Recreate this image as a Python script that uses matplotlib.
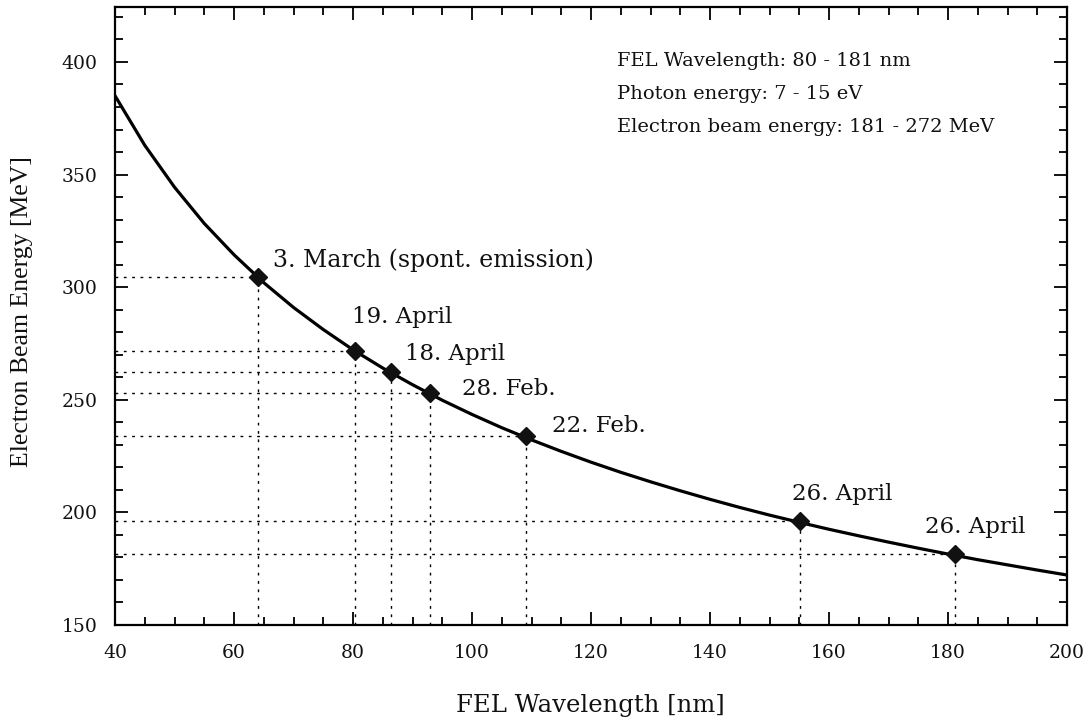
import matplotlib
matplotlib.use("Agg")
import matplotlib.pyplot as plt
from matplotlib.ticker import MultipleLocator

plt.rcParams['font.family'] = ['DejaVu Serif']

# Curve (FEL wavelength [nm] -> electron beam energy [MeV])
curve_wl = [40, 45, 50, 55, 60, 65, 70, 75, 80, 85, 90, 95, 100, 105, 110, 115, 120,
            125, 130, 135, 140, 145, 150, 155, 160, 165, 170, 175, 180, 185, 190, 195, 200]
curve_e = [385.0, 363.0, 344.4, 328.3, 314.4, 302.0, 291.0, 281.2, 272.2, 264.1, 256.7,
           249.8, 243.5, 237.6, 232.2, 227.1, 222.3, 217.8, 213.6, 209.6, 205.8, 202.2,
           198.8, 195.6, 192.5, 189.6, 186.8, 184.1, 181.5, 179.0, 176.7, 174.4, 172.2]

# Measured points
point_wl = [64.0, 80.4, 86.4, 92.9, 109.1, 155.2, 181.2]
point_e = [304.6, 271.8, 262.3, 253.0, 233.9, 196.2, 181.5]
point_labels = ["3. March (spont. emission)", "19. April", "18. April", "28. Feb.",
                "22. Feb.", "26. April", "26. April"]
label_pos = [(66.5, 309.1), (79.8, 284.1), (88.7, 267.7), (98.3, 252.1),
             (113.4, 235.7), (153.8, 205.5), (176.1, 190.9)]

info_lines = ["FEL Wavelength: 80 - 181 nm", "Photon energy: 7 - 15 eV",
              "Electron beam energy: 181 - 272 MeV"]

W, H = 1090, 719
fig = plt.figure(figsize=(W / 100, H / 100), dpi=100)
ax_l, ax_r, ax_t, ax_b = 115, 1067, 7, 625
ax = fig.add_axes([ax_l / W, 1 - ax_b / H, (ax_r - ax_l) / W, (ax_b - ax_t) / H])

xmin, xmax, ymin, ymax = 40, 200, 150, 424.4
ax.set_xlim(xmin, xmax)
ax.set_ylim(ymin, ymax)

# guide lines
for x, y in zip(point_wl, point_e):
    ax.plot([xmin, x], [y, y], color='black', lw=1.0, ls=(0, (2, 4)), zorder=1)
    ax.plot([x, x], [ymin, y], color='black', lw=1.0, ls=(0, (2, 4)), zorder=1)

ax.plot(curve_wl, curve_e, color='black', lw=2.3, zorder=2)
ax.plot(point_wl, point_e, ls='none', marker='D', ms=9.5, color='#111111', zorder=3)

label_sizes = [17, 16.5, 16.5, 16.5, 16.5, 16.5, 16.5]
for (tx, ty), lab, fs in zip(label_pos, point_labels, label_sizes):
    ax.text(tx, ty, lab, fontsize=fs, ha='left', va='baseline', color='#111111')

info_base = [66, 99, 132]
for yb, line in zip(info_base, info_lines):
    ax.text((617 - ax_l) / (ax_r - ax_l), (ax_b - yb) / (ax_b - ax_t), line,
            transform=ax.transAxes, fontsize=14, ha='left', va='baseline',
            color='#111111')

ax.xaxis.set_major_locator(MultipleLocator(20))
ax.xaxis.set_minor_locator(MultipleLocator(5))
ax.yaxis.set_major_locator(MultipleLocator(50))
ax.yaxis.set_minor_locator(MultipleLocator(10))
ax.tick_params(which='both', direction='in', top=True, right=True, width=1.3,
               labelsize=13.5, colors='black', labelcolor='#111111')
ax.tick_params(which='major', length=9.5)
ax.tick_params(which='minor', length=6)
ax.tick_params(axis='x', which='major', pad=14)
ax.tick_params(axis='y', which='major', pad=12.5)

for s in ax.spines.values():
    s.set_linewidth(1.6)

fig.text(590 / W, (H - 712) / H, "FEL Wavelength [nm]", fontsize=17.5,
         ha='center', va='baseline', color='#111111')
fig.text(22 / W, 1 - 312 / H, "Electron Beam Energy [MeV]", fontsize=18.5,
         family='Liberation Serif', rotation=90, ha='center', va='center',
         color='#111111')

fig.savefig("out.png", dpi=100, facecolor='white')
